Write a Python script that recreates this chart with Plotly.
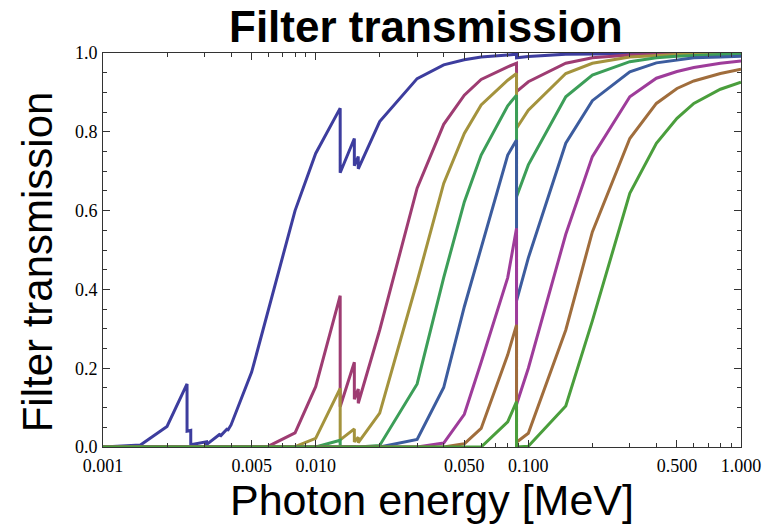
import plotly.graph_objects as go

# Photon energies in MeV; absorption edges appear twice (below / above the edge)
energy = [0.001, 0.0015, 0.002, 0.002484, 0.002484, 0.002586, 0.002586, 0.003,
          0.003066, 0.003066, 0.003554, 0.003554, 0.003851, 0.003851, 0.004,
          0.005, 0.006, 0.008, 0.01, 0.01304, 0.01304, 0.0152, 0.0152,
          0.01586, 0.01586, 0.02, 0.03, 0.04, 0.05, 0.06, 0.08, 0.088, 0.088,
          0.1, 0.15, 0.2, 0.3, 0.4, 0.5, 0.6, 0.8, 1.0]

# Transmission of each filter, thinnest first
filter_1 = [0.0, 0.005, 0.052, 0.16, 0.04, 0.042, 0.006, 0.011, 0.013, 0.006,
            0.033, 0.027, 0.047, 0.041, 0.056, 0.19, 0.35, 0.60, 0.745, 0.86,
            0.696, 0.783, 0.714, 0.737, 0.706, 0.826, 0.935, 0.970, 0.983,
            0.990, 0.995, 0.997, 0.988, 0.991, 0.997, 0.998, 0.999, 0.999,
            0.999, 0.999, 0.999, 0.999]
filter_2 = [0.0, 0.0, 0.0, 0.0, 0.0, 0.0, 0.0, 0.0, 0.0, 0.0, 0.0, 0.0, 0.0,
            0.0, 0.0, 0.0, 0.002, 0.036, 0.153, 0.384, 0.102, 0.215, 0.121,
            0.147, 0.111, 0.297, 0.657, 0.819, 0.893, 0.933, 0.965, 0.974,
            0.902, 0.927, 0.974, 0.988, 0.995, 0.997, 0.998, 0.998, 0.999,
            0.999]
filter_3 = [0.0, 0.0, 0.0, 0.0, 0.0, 0.0, 0.0, 0.0, 0.0, 0.0, 0.0, 0.0, 0.0,
            0.0, 0.0, 0.0, 0.0, 0.001, 0.022, 0.149, 0.018, 0.046, 0.013,
            0.025, 0.011, 0.086, 0.42, 0.669, 0.796, 0.868, 0.931, 0.948,
            0.809, 0.855, 0.948, 0.974, 0.990, 0.994, 0.996, 0.997, 0.998,
            0.998]
filter_4 = [0.0, 0.0, 0.0, 0.0, 0.0, 0.0, 0.0, 0.0, 0.0, 0.0, 0.0, 0.0, 0.0,
            0.0, 0.0, 0.0, 0.0, 0.0, 0.0, 0.017, 0.0, 0.001, 0.0, 0.0, 0.0,
            0.004, 0.16, 0.43, 0.622, 0.741, 0.866, 0.893, 0.635, 0.716,
            0.889, 0.944, 0.978, 0.988, 0.992, 0.994, 0.996, 0.997]
filter_5 = [0.0, 0.0, 0.0, 0.0, 0.0, 0.0, 0.0, 0.0, 0.0, 0.0, 0.0, 0.0, 0.0,
            0.0, 0.0, 0.0, 0.0, 0.0, 0.0, 0.0, 0.0, 0.0, 0.0, 0.0, 0.0, 0.0,
            0.019, 0.151, 0.356, 0.508, 0.741, 0.779, 0.371, 0.48, 0.771,
            0.879, 0.952, 0.975, 0.983, 0.988, 0.990, 0.992]
filter_6 = [0.0, 0.0, 0.0, 0.0, 0.0, 0.0, 0.0, 0.0, 0.0, 0.0, 0.0, 0.0, 0.0,
            0.0, 0.0, 0.0, 0.0, 0.0, 0.0, 0.0, 0.0, 0.0, 0.0, 0.0, 0.0, 0.0,
            0.0, 0.01, 0.083, 0.215, 0.43, 0.555, 0.108, 0.2, 0.54, 0.737,
            0.889, 0.936, 0.953, 0.963, 0.974, 0.98]
filter_7 = [0.0, 0.0, 0.0, 0.0, 0.0, 0.0, 0.0, 0.0, 0.0, 0.0, 0.0, 0.0, 0.0,
            0.0, 0.0, 0.0, 0.0, 0.0, 0.0, 0.0, 0.0, 0.0, 0.0, 0.0, 0.0, 0.0,
            0.0, 0.0, 0.008, 0.047, 0.234, 0.31, 0.012, 0.035, 0.297, 0.546,
            0.783, 0.872, 0.91, 0.929, 0.948, 0.959]
filter_8 = [0.0, 0.0, 0.0, 0.0, 0.0, 0.0, 0.0, 0.0, 0.0, 0.0, 0.0, 0.0, 0.0,
            0.0, 0.0, 0.0, 0.0, 0.0, 0.0, 0.0, 0.0, 0.0, 0.0, 0.0, 0.0, 0.0,
            0.0, 0.0, 0.0, 0.0, 0.064, 0.115, 0.0, 0.002, 0.104, 0.32, 0.644,
            0.771, 0.834, 0.872, 0.908, 0.926]

series = [filter_1, filter_2, filter_3, filter_4,
          filter_5, filter_6, filter_7, filter_8]
colors = ["#3d3d9e", "#9e3c72", "#a4933d", "#3c9e58",
          "#3c5c9e", "#9e3c9a", "#a06d3c", "#4a9e3c"]

x_tickvals = [0.001, 0.005, 0.01, 0.05, 0.1, 0.5, 1.0]
x_ticktext = ["0.001", "0.005", "0.010", "0.050", "0.100", "0.500", "1.000"]
x_minor = [m * 10.0 ** p for p in (-3, -2, -1) for m in (2, 3, 4, 6, 7, 8, 9)]
y_tickvals = [0.0, 0.2, 0.4, 0.6, 0.8, 1.0]
y_ticktext = ["0.0", "0.2", "0.4", "0.6", "0.8", "1.0"]

fig = go.Figure()
for ys, c in zip(series, colors):
    fig.add_trace(go.Scatter(x=energy, y=ys, mode="lines",
                             line=dict(color=c, width=3),
                             showlegend=False, hoverinfo="skip"))

tick_font = dict(family="Liberation Serif", size=18, color="black")
axis_common = dict(showline=True, linecolor="#333333", linewidth=1,
                   mirror="allticks", ticks="inside", ticklen=7,
                   tickcolor="#333333", showgrid=False, zeroline=False,
                   tickfont=tick_font)

fig.update_xaxes(type="log", range=[-3, 0], tickmode="array",
                 tickvals=x_tickvals, ticktext=x_ticktext,
                 ticklabelstandoff=2,
                 minor=dict(tickmode="array", tickvals=x_minor,
                            ticks="inside", ticklen=4, tickcolor="#333333"),
                 **axis_common)
fig.update_yaxes(range=[0, 1], tickmode="array",
                 tickvals=y_tickvals, ticktext=y_ticktext,
                 ticklabelstandoff=1,
                 minor=dict(dtick=0.05, ticks="inside", ticklen=4,
                            tickcolor="#333333"),
                 **axis_common)

title_font = dict(family="Liberation Sans", color="black")
fig.update_layout(
    width=773, height=531,
    margin=dict(l=103, r=30, t=53, b=84),
    paper_bgcolor="white", plot_bgcolor="white",
    annotations=[
        dict(text="<b>Filter transmission</b>", xref="paper", yref="paper",
             x=0.507, y=1, xanchor="center", yanchor="bottom", yshift=0,
             showarrow=False, font=dict(size=44, **title_font)),
        dict(text="Photon energy [MeV]", xref="paper", yref="paper",
             x=0.516, y=0, xanchor="center", yanchor="top", yshift=-27,
             showarrow=False, font=dict(size=43, **title_font)),
        dict(text="Filter transmission", xref="paper", yref="paper",
             x=0, y=0.47, xanchor="right", yanchor="middle", xshift=-40,
             textangle=-90, showarrow=False,
             font=dict(size=42, **title_font)),
    ],
)

fig.write_html("out.html")
